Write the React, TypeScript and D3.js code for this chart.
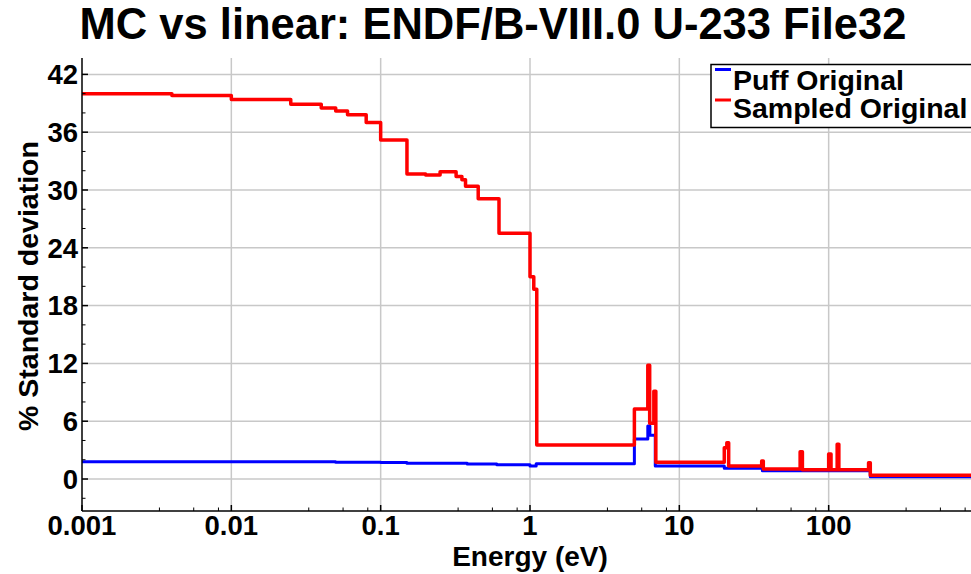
import React from "react";
import * as d3 from "d3";

// Step data: each entry is [energy (eV) where the level starts, % std. dev.]
const sampledEnergy = [0.001, 0.004, 0.01, 0.025, 0.04, 0.05, 0.06, 0.08, 0.1, 0.15, 0.2, 0.25, 0.32, 0.35, 0.37, 0.45, 0.62, 1.0, 1.06, 1.11, 5.0, 6.15, 6.33, 6.75, 6.96, 20.0, 20.8, 21.4, 35.6, 36.5, 64.4, 66.7, 100, 103.7, 114, 117, 185, 190, 1000];
const sampledValue = [40.0, 39.8, 39.4, 38.9, 38.5, 38.2, 37.8, 37.0, 35.2, 31.65, 31.55, 31.9, 31.4, 31.05, 30.4, 29.1, 25.5, 21.0, 19.7, 3.53, 7.27, 11.8, 5.8, 9.1, 1.73, 3.25, 3.77, 1.35, 1.87, 1.04, 2.84, 0.95, 2.6, 0.95, 3.6, 0.95, 1.7, 0.4, 0.4];

const puffEnergy = [0.001, 0.01, 0.05, 0.1, 0.15, 0.38, 0.6, 1.0, 1.1, 5.0, 6.15, 6.35, 6.9, 20.0, 36.0, 190, 1000];
const puffValue = [1.8, 1.78, 1.75, 1.72, 1.63, 1.56, 1.48, 1.35, 1.59, 4.15, 5.5, 4.55, 1.35, 1.12, 0.86, 0.24, 0.24];

const xMajorTicks = [0.001, 0.01, 0.1, 1, 10, 100];
const xTickLabels = ["0.001", "0.01", "0.1", "1", "10", "100"];
const xMinorMultipliers = [3.3, 5.6, 8.2];
const yMajorTicks = [0, 6, 12, 18, 24, 30, 36, 42];
const yMinorStep = 2;

const seriesNames = ["Puff Original", "Sampled Original"];
const seriesColors = ["#0000ff", "#ff0000"];

const W = 971;
const H = 574;
const plot = { left: 82, right: 978, top: 58, bottom: 511 };
const font = "'Liberation Sans', Arial, Helvetica, sans-serif";

export default function App() {
  const x = d3.scaleLog().domain([0.001, 1000]).range([plot.left, plot.right]);
  const y = d3.scaleLinear().domain([-3.32, 43.7]).range([plot.bottom, plot.top]);

  const line = d3
    .line<[number, number]>()
    .x((d) => x(d[0]))
    .y((d) => y(d[1]))
    .curve(d3.curveStepAfter);

  const puffPts = puffEnergy.map((e, i) => [e, puffValue[i]] as [number, number]);
  const sampledPts = sampledEnergy.map((e, i) => [e, sampledValue[i]] as [number, number]);

  const xMinor: number[] = [];
  for (let dec = 0.001; dec < 1000; dec *= 10) {
    xMinorMultipliers.forEach((m) => xMinor.push(dec * m));
  }
  const [y0, y1] = y.domain();
  const yMinor = d3.range(Math.ceil(y0 / yMinorStep) * yMinorStep, y1, yMinorStep).filter((v) => v % 6 !== 0);

  const gridColor = "#c8c8c8";

  return (
    <svg width={W} height={H} style={{ position: "absolute", left: 0, top: 0, display: "block" }} fontFamily={font}>
      <defs>
        <clipPath id="plotClip">
          <rect x={plot.left} y={plot.top} width={plot.right - plot.left} height={plot.bottom - plot.top} />
        </clipPath>
      </defs>
      <rect width={W} height={H} fill="#fff" />

      {/* grid */}
      {yMajorTicks.map((v) => (
        <line key={"gy" + v} x1={plot.left} x2={plot.right} y1={y(v)} y2={y(v)} stroke={gridColor} strokeWidth={1.5} />
      ))}
      {xMajorTicks.slice(1).map((v) => (
        <line key={"gx" + v} x1={x(v)} x2={x(v)} y1={plot.top} y2={plot.bottom} stroke={gridColor} strokeWidth={1.5} />
      ))}

      {/* series */}
      <g clipPath="url(#plotClip)">
        <path d={line(puffPts) || ""} fill="none" stroke={seriesColors[0]} strokeWidth={3} strokeLinejoin="round" />
        <path d={line(sampledPts) || ""} fill="none" stroke={seriesColors[1]} strokeWidth={3.5} strokeLinejoin="round" />
      </g>

      {/* axes */}
      <line x1={plot.left} x2={plot.left} y1={plot.top} y2={plot.bottom} stroke="#000" strokeWidth={1.5} />
      <line x1={plot.left} x2={plot.right} y1={plot.bottom} y2={plot.bottom} stroke="#000" strokeWidth={1.5} />
      {xMajorTicks.map((v) => (
        <line key={"xt" + v} x1={x(v)} x2={x(v)} y1={plot.bottom} y2={plot.bottom - 6} stroke="#000" strokeWidth={1.5} />
      ))}
      {xMinor.map((v, i) => (
        <line key={"xm" + i} x1={x(v)} x2={x(v)} y1={plot.bottom} y2={plot.bottom - 3.5} stroke="#000" strokeWidth={1} />
      ))}
      {yMajorTicks.map((v) => (
        <line key={"yt" + v} x1={plot.left} x2={plot.left + 6} y1={y(v)} y2={y(v)} stroke="#000" strokeWidth={1.5} />
      ))}
      {yMinor.map((v) => (
        <line key={"ym" + v} x1={plot.left} x2={plot.left + 3.5} y1={y(v)} y2={y(v)} stroke="#000" strokeWidth={1} />
      ))}

      {/* tick labels */}
      {xMajorTicks.map((v, i) => (
        <text key={"xl" + v} x={x(v)} y={535} textAnchor="middle" fontSize={27.5} fontWeight="bold" fill="#000">
          {xTickLabels[i]}
        </text>
      ))}
      {yMajorTicks.map((v) => (
        <text key={"yl" + v} x={78} y={y(v) + 9.8} textAnchor="end" fontSize={27.5} fontWeight="bold" fill="#000">
          {v}
        </text>
      ))}

      {/* titles */}
      <text x={493} y={39} textAnchor="middle" fontSize={43.5} fontWeight="bold" fill="#000">
        MC vs linear: ENDF/B-VIII.0 U-233 File32
      </text>
      <text x={530} y={566} textAnchor="middle" fontSize={28} fontWeight="bold" fill="#000">
        Energy (eV)
      </text>
      <text transform={`translate(38,286) rotate(-90)`} textAnchor="middle" fontSize={28.5} fontWeight="bold" fill="#000">
        % Standard deviation
      </text>

      {/* legend */}
      <g>
        <rect x={711} y={64.5} width={270} height={63} fill="#fff" stroke="#000" strokeWidth={1.5} />
        {seriesNames.map((name, i) => (
          <g key={name}>
            <line x1={715} x2={731} y1={69.5 + i * 30.5} y2={69.5 + i * 30.5} stroke={seriesColors[i]} strokeWidth={3} />
            <text x={733} y={90 + i * 28} fontSize={28.5} fontWeight="bold" fill="#000">
              {name}
            </text>
          </g>
        ))}
      </g>
    </svg>
  );
}
